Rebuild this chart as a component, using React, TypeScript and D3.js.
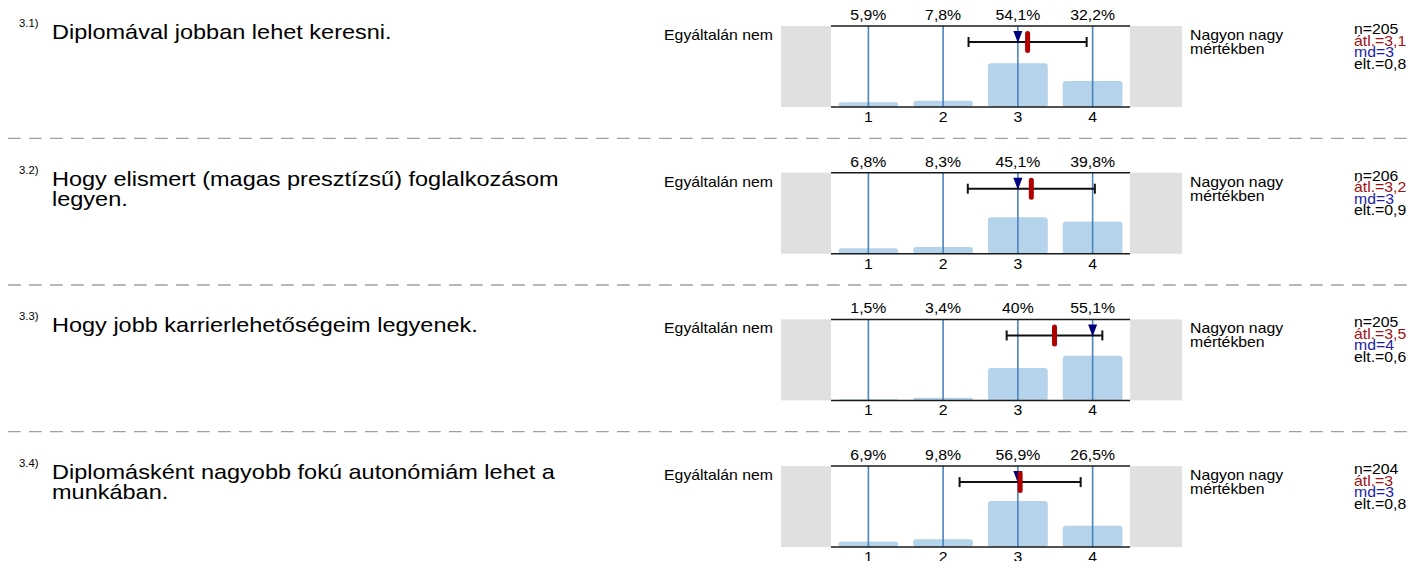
import * as d3 from "d3";

// answer categories and survey results
const categories = [1, 2, 3, 4];
const questionIds = ["3.1)", "3.2)", "3.3)", "3.4)"];
const questionLines = [
  ["Diplomával jobban lehet keresni."],
  ["Hogy elismert (magas presztízsű) foglalkozásom", "legyen."],
  ["Hogy jobb karrierlehetőségeim legyenek."],
  ["Diplomásként nagyobb fokú autonómiám lehet a", "munkában."],
];
const pct31 = [5.9, 7.8, 54.1, 32.2];
const pct32 = [6.8, 8.3, 45.1, 39.8];
const pct33 = [1.5, 3.4, 40, 55.1];
const pct34 = [6.9, 9.8, 56.9, 26.5];
const percents = [pct31, pct32, pct33, pct34];
const nValues = [205, 206, 205, 204];
const means = [3.13, 3.18, 3.49, 3.03];
const meanLabels = ["3,1", "3,2", "3,5", "3"];
const medians = [3, 3, 4, 3];
const sds = [0.79, 0.85, 0.64, 0.81];
const sdLabels = ["0,8", "0,9", "0,6", "0,8"];
const leftLabel = "Egyáltalán nem";
const rightLabel = ["Nagyon nagy", "mértékben"];

const W = 1410;
const H = 561;
const rowH = 146.7;
const plotTop = 26;
const plotBottom = 107;
const SX = 1.13; // text in the picture is a bit wide
const font = "'Liberation Sans', Arial, Helvetica, sans-serif";

const fmtPct = (v: number) => String(v).replace(".", ",") + "%";

function T(props: { x: number; y: number; size: number; anchor?: string; fill?: string; children: any }) {
  const { x, y, size, anchor = "start", fill = "#000", children } = props;
  return (
    <text
      transform={`translate(${x},${y}) scale(${SX},1)`}
      textAnchor={anchor}
      fontSize={size}
      fill={fill}
    >
      {children}
    </text>
  );
}

function Row({ i }: { i: number }) {
  const x = d3.scaleBand<number>().domain(categories).range([831, 1130]).paddingInner(0.2).paddingOuter(0.1);
  const cx = (c: number) => (x(c) as number) + x.bandwidth() / 2;
  const xl = d3.scaleLinear().domain([1, 4]).range([cx(1), cx(4)]);
  const y = d3.scaleLinear().domain([0, 100]).range([plotBottom, plotTop]);
  const data = percents[i];
  const ey = 42;
  const mx = xl(means[i]);
  const mdx = xl(medians[i]);
  const lo = xl(means[i] - sds[i]);
  const hi = xl(means[i] + sds[i]);
  const tri = d3.line()([[mdx - 4.5, 31], [mdx + 4.5, 31], [mdx, 43]]) + "Z";

  return (
    <g transform={`translate(0,${i * rowH})`}>
      {/* question */}
      <T x={19} y={27} size={10}>{questionIds[i]}</T>
      {questionLines[i].map((l, k) => (
        <T key={k} x={52} y={39 + k * 20} size={20.8}>{l}</T>
      ))}

      {/* side boxes */}
      <rect x={781} y={plotTop} width={50} height={plotBottom - plotTop} fill="#e0e0e0" />
      <rect x={1130} y={plotTop} width={52} height={plotBottom - plotTop} fill="#e0e0e0" />
      <T x={773} y={40} size={14} anchor="end">{leftLabel}</T>
      {rightLabel.map((l, k) => (
        <T key={k} x={1190} y={40 + k * 14} size={14}>{l}</T>
      ))}

      {/* bars */}
      {categories.map((c, k) => (
        <rect
          key={c}
          x={x(c)}
          y={y(data[k])}
          width={x.bandwidth()}
          height={plotBottom - y(data[k])}
          rx={3}
          fill="#b5d3ea"
        />
      ))}
      {categories.map((c) => (
        <line key={c} x1={cx(c)} x2={cx(c)} y1={plotTop} y2={plotBottom} stroke="#4a84bf" strokeWidth={1.6} />
      ))}
      <line x1={831} x2={1130} y1={plotTop} y2={plotTop} stroke="#1a1a1a" strokeWidth={1.5} />
      <line x1={831} x2={1130} y1={plotBottom} y2={plotBottom} stroke="#1a1a1a" strokeWidth={1.5} />

      {categories.map((c, k) => (
        <T key={"p" + c} x={cx(c)} y={20} size={14} anchor="middle">{fmtPct(data[k])}</T>
      ))}
      {categories.map((c) => (
        <T key={"t" + c} x={cx(c)} y={122} size={14} anchor="middle">{String(c)}</T>
      ))}

      {/* sd range, median, mean */}
      <line x1={lo} x2={hi} y1={ey} y2={ey} stroke="#111" strokeWidth={2} />
      <line x1={lo} x2={lo} y1={ey - 5} y2={ey + 5} stroke="#111" strokeWidth={2} />
      <line x1={hi} x2={hi} y1={ey - 5} y2={ey + 5} stroke="#111" strokeWidth={2} />
      <path d={tri} fill="#000080" />
      <rect x={mx - 2.5} y={ey - 11} width={5} height={22} rx={2.5} fill="#b00000" />

      {/* stats */}
      <T x={1354} y={34} size={14}>{"n=" + nValues[i]}</T>
      <T x={1354} y={45.5} size={14} fill="#a01010">{"átl.=" + meanLabels[i]}</T>
      <T x={1354} y={57} size={14} fill="#1c1ca8">{"md=" + medians[i]}</T>
      <T x={1354} y={68.5} size={14}>{"elt.=" + sdLabels[i]}</T>

      {i < questionIds.length - 1 && (
        <line x1={8} x2={W} y1={138.3} y2={138.3} stroke="#a0a0a0" strokeWidth={1.3} strokeDasharray="12.7 8.3" />
      )}
    </g>
  );
}

export default function App() {
  return (
    <div style={{ position: "fixed", left: 0, top: 0, width: W, height: H, background: "#fff" }}>
      <svg width={W} height={H} style={{ display: "block", fontFamily: font }}>
        <rect width={W} height={H} fill="#fff" />
        {questionIds.map((_, i) => (
          <Row key={i} i={i} />
        ))}
      </svg>
    </div>
  );
}
